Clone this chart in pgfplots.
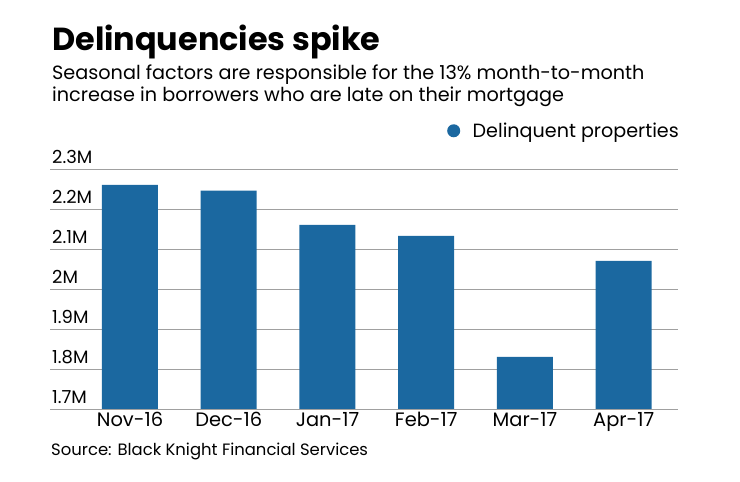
\documentclass[border=0pt]{standalone}
\usepackage{pgfplots}
\pgfplotsset{compat=1.18}
\usepackage{fontspec}
\setmainfont{Poppins}
\definecolor{barblue}{RGB}{27,104,160}
\definecolor{gridgray}{RGB}{160,160,160}
\begin{document}
\begin{tikzpicture}[x=1bp,y=1bp]
\path[use as bounding box] (0,0) rectangle (740,482);
\node[anchor=base west, inner sep=0, font=\fontsize{32}{32}\selectfont\bfseries] at (52,431) {Delinquencies spike};
\node[anchor=base west, inner sep=0, font=\fontsize{19.3}{19.3}\selectfont] at (52,402) {Seasonal factors are responsible for the 13\% month-to-month};
\node[anchor=base west, inner sep=0, font=\fontsize{19.3}{19.3}\selectfont] at (52,380) {increase in borrowers who are late on their mortgage};
\node[anchor=base west, inner sep=0, font=\fontsize{16.5}{16.5}\selectfont] at (51,26) {Source: Black Knight Financial Services};
\begin{axis}[
  at={(50bp,73bp)}, anchor=south west, scale only axis,
  width=628bp, height=240bp,
  xmin=-0.81, xmax=5.55, ymin=1.7, ymax=2.3,
  separate axis lines,
  axis x line*=bottom, axis y line*=left,
  y axis line style={draw=none},
  x axis line style={draw=gridgray, line width=0.9bp, -},
  major tick length=0,
  xtick=data,
  xticklabels={Nov-16,Dec-16,Jan-17,Feb-17,Mar-17,Apr-17},
  ytick={1.7,1.8,1.9,2.0,2.1,2.2,2.3},
  yticklabels={1.7M,1.8M,1.9M,2M,2.1M,2.2M,2.3M},
  yticklabel style={anchor=base west, inner sep=0, xshift=2bp, yshift=5bp, font=\fontsize{18}{18}\selectfont},
  xticklabel style={anchor=base, inner sep=0, yshift=-18bp, font=\fontsize{19.5}{19.5}\selectfont},
  ymajorgrids, grid style={draw=gridgray, line width=0.9bp},
  ybar, bar width=56bp,
  legend style={at={(1,1)}, anchor=south east, xshift=3bp, yshift=28bp, draw=none, fill=none, inner sep=0, font=\fontsize{19.2}{19.2}\selectfont},
  legend image code/.code={\fill[barblue] (0bp,0bp) circle (6.5bp); \path (17bp,0bp);},
]
\addplot[fill=barblue, draw=none] coordinates {(0,2.26) (1,2.246) (2,2.16) (3,2.1325) (4,1.83) (5,2.07)};
\addlegendentry{Delinquent properties}
\end{axis}
\end{tikzpicture}
\end{document}
